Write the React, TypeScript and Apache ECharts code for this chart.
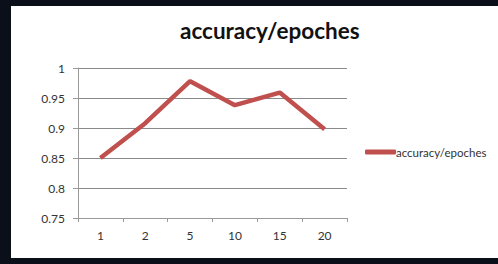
import React, { useEffect, useRef } from "react";
import * as echarts from "echarts";

const categories = ["1", "2", "5", "10", "15", "20"];
const accuracy = [0.85, 0.908, 0.978, 0.938, 0.959, 0.898];
const seriesName = "accuracy/epoches";
const titleText = "accuracy/epoches";

export default function App() {
  const ref = useRef<HTMLDivElement>(null);
  useEffect(() => {
    const chart = echarts.init(ref.current!, undefined, { renderer: "svg" });
    chart.setOption({
      animation: false,
      backgroundColor: "#0b0f19",
      graphic: [
        {
          type: "rect",
          z: -10,
          shape: { x: 11, y: 6, width: 487, height: 252 },
          style: { fill: "#ffffff" },
          silent: true,
        },
      ],
      title: {
        text: titleText,
        left: 180,
        top: 19,
        padding: [0, 0, 0, 0],
        textStyle: {
          fontFamily: "Lato",
          fontWeight: "bold",
          fontSize: 22.5,
          color: "#111111",
        },
      },
      legend: {
        data: [seriesName],
        left: 365,
        top: 146,
        padding: 0,
        icon: "roundRect",
        itemWidth: 31,
        itemHeight: 5,
        itemGap: 0,
        textStyle: {
          fontFamily: "Lato",
          fontSize: 11.5,
          color: "#333333",
          padding: [0, 0, 0, -5],
        },
      },
      grid: { left: 78, top: 68, width: 269, height: 150, containLabel: false },
      xAxis: {
        type: "category",
        data: categories,
        boundaryGap: true,
        axisLine: { lineStyle: { color: "#9a9a9a", width: 1 } },
        axisTick: { show: true, length: 4, lineStyle: { color: "#9a9a9a" } },
        axisLabel: {
          margin: 11,
          fontFamily: "Lato",
          fontSize: 12,
          color: "#333333",
        },
      },
      yAxis: {
        type: "value",
        min: 0.75,
        max: 1,
        interval: 0.05,
        axisLine: { show: true, lineStyle: { color: "#9a9a9a", width: 1 } },
        axisTick: { show: true, length: 5, lineStyle: { color: "#9a9a9a" } },
        splitLine: { show: true, lineStyle: { color: "#8a8a8a", width: 1 } },
        axisLabel: {
          margin: 13,
          fontFamily: "Lato",
          fontSize: 12,
          color: "#333333",
          formatter: (v: number) => String(Number(v.toFixed(2))),
        },
      },
      series: [
        {
          name: seriesName,
          type: "line",
          data: accuracy,
          symbol: "none",
          lineStyle: { color: "#c0504d", width: 4.5 },
          itemStyle: { color: "#c0504d" },
        },
      ],
    });
    return () => chart.dispose();
  }, []);
  return (
    <div
      ref={ref}
      style={{ position: "fixed", left: 0, top: 0, width: 498, height: 264 }}
    />
  );
}
